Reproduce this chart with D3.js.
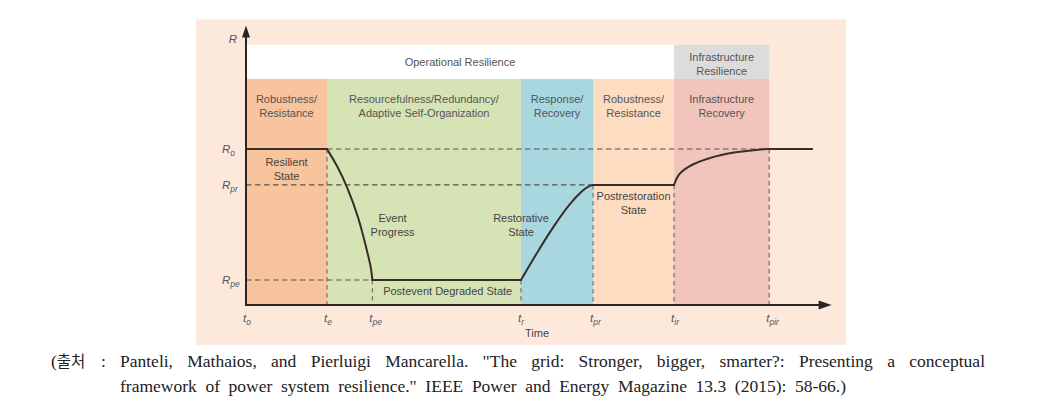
<!DOCTYPE html>
<html>
<head>
<meta charset="utf-8">
<script src="https://cdn.jsdelivr.net/npm/d3@7"></script>
<style>
  html, body { margin: 0; padding: 0; background: #ffffff; }
  svg { display: block; }
</style>
</head>
<body>
<svg id="chart" width="1042" height="407"></svg>
<script>
// ---------------- DATA ----------------
const timeSubs   = ["o", "e", "pe", "r", "pr", "ir", "pir"];
const timeValues = [0, 10, 15.6, 33.95, 42.85, 52.85, 64.6];
const timeAxisEnd = 72.3;
const curveEnd = 69.9;

const levelSubs   = ["o", "pr", "pe"];
const levelValues = [1, 0.77, 0.16];

const phaseLabels = [
  ["Robustness/", "Resistance"],
  ["Resourcefulness/Redundancy/", "Adaptive Self-Organization"],
  ["Response/", "Recovery"],
  ["Robustness/", "Resistance"],
  ["Infrastructure", "Recovery"]
];
const phaseStart = [0, 1, 3, 4, 5];   // index into timeValues
const phaseEnd   = [1, 3, 4, 5, 6];
const phaseColors = ["#f8c49d", "#d6e3b5", "#a9d7df", "#fddcc1", "#f1c5bb"];

const resilienceLabels = ["Operational Resilience", ["Infrastructure", "Resilience"]];

// resilience curve pieces [time, R]
const resilientState = [[0, 1], [10, 1]];
const eventProgress = [[10, 1], [11.3, 0.89], [12.4, 0.77], [13.9, 0.565], [14.9, 0.355], [15.45, 0.24], [15.6, 0.16]];
const degradedState = [[15.6, 0.16], [33.95, 0.16]];
const restorativeState = [[33.95, 0.16], [35.9, 0.333], [37.9, 0.5], [40.0, 0.654], [41.6, 0.737], [42.3, 0.762], [42.85, 0.77]];
const postrestorationState = [[42.85, 0.77], [52.85, 0.77]];
const infraRecovery = [[52.85, 0.77], [53.3, 0.835], [54.4, 0.885], [56.9, 0.942], [60.6, 0.983], [63.5, 0.998], [64.6, 1.0]];
const finalState = [[64.6, 1], [curveEnd, 1]];

const stateLabels = [
  {lines: ["Resilient", "State"], t: 5, r: 0.89},
  {lines: ["Event", "Progress"], t: 18.1, r: 0.535},
  {lines: ["Restorative", "State"], t: 33.95, r: 0.535},
  {lines: ["Postrestoration", "State"], t: 47.85, r: 0.675},
  {lines: ["Postevent Degraded State"], t: 24.9, r: 0.065}
];

const captionLabel = ["(출처", ":"];
const captionLine1 = "Panteli, Mathaios, and Pierluigi Mancarella. \"The grid: Stronger, bigger, smarter?: Presenting a conceptual";
const captionLine2 = "framework of power system resilience.\" IEEE Power and Energy Magazine 13.3 (2015): 58-66.)";

// ---------------- DRAW ----------------
const svg = d3.select("#chart");
const x = d3.scaleLinear().domain([0, timeAxisEnd]).range([246, 831.6]);
const y = d3.scaleLinear().domain([0, 1]).range([305, 149]);

const R_BAND_TOP = 1.449, R_TOP = 1.667, R_PANEL_TOP = 1.83, R_PANEL_BOTTOM = -0.256;

// outer panel
svg.append("rect")
  .attr("x", 196).attr("y", y(R_PANEL_TOP))
  .attr("width", 846 - 196).attr("height", y(R_PANEL_BOTTOM) - y(R_PANEL_TOP))
  .attr("fill", "#fde9dc");

// operational resilience (white) and infrastructure resilience (grey) bands
svg.append("rect")
  .attr("x", x(timeValues[0])).attr("y", y(R_TOP))
  .attr("width", x(timeValues[5]) - x(timeValues[0])).attr("height", y(R_BAND_TOP) - y(R_TOP))
  .attr("fill", "#ffffff");
svg.append("rect")
  .attr("x", x(timeValues[5])).attr("y", y(R_TOP))
  .attr("width", x(timeValues[6]) - x(timeValues[5])).attr("height", y(R_BAND_TOP) - y(R_TOP))
  .attr("fill", "#dcdcdc");

// phase bands
phaseLabels.forEach((lab, i) => {
  const x0 = x(timeValues[phaseStart[i]]), x1 = x(timeValues[phaseEnd[i]]);
  svg.append("rect")
    .attr("x", x0).attr("y", y(R_BAND_TOP))
    .attr("width", x1 - x0).attr("height", y(0) - y(R_BAND_TOP))
    .attr("fill", phaseColors[i]);
});

const sans = "'Liberation Sans', Arial, sans-serif";
function multiText(cx, baseline, lines, size, color, lh) {
  const t = svg.append("text")
    .attr("text-anchor", "middle")
    .attr("font-family", sans).attr("font-size", size).attr("fill", color);
  lines.forEach((l, k) => {
    t.append("tspan").attr("x", cx).attr("y", baseline + k * lh).text(l);
  });
  return t;
}

// band texts
multiText((x(timeValues[0]) + x(timeValues[5])) / 2, 66, [resilienceLabels[0]], 11, "#555", 14);
multiText((x(timeValues[5]) + x(timeValues[6])) / 2, 61, resilienceLabels[1], 11, "#555", 14);
phaseLabels.forEach((lab, i) => {
  const cx = (x(timeValues[phaseStart[i]]) + x(timeValues[phaseEnd[i]])) / 2;
  multiText(cx, 103, lab, 11, "#555", 13.5);
});

// dashed reference lines
const dashes = [
  {h: true, a: timeValues[1], b: timeValues[6], v: levelValues[0]},
  {h: true, a: timeValues[0], b: timeValues[4], v: levelValues[1]},
  {h: true, a: timeValues[0], b: timeValues[2], v: levelValues[2]},
  {h: false, a: levelValues[0], b: 0, v: timeValues[1]},
  {h: false, a: levelValues[2], b: 0, v: timeValues[2]},
  {h: false, a: levelValues[2], b: 0, v: timeValues[3]},
  {h: false, a: levelValues[1], b: 0, v: timeValues[4]},
  {h: false, a: levelValues[1], b: 0, v: timeValues[5]},
  {h: false, a: levelValues[0], b: 0, v: timeValues[6]}
];
dashes.forEach(d => {
  const l = svg.append("line")
    .attr("stroke", d.h ? "#5e5048" : "#857a72")
    .attr("stroke-width", d.h ? 1.1 : 1.3)
    .attr("stroke-dasharray", d.h ? "5.5,3.5" : "4.5,3.5");
  if (d.h) l.attr("x1", x(d.a)).attr("x2", x(d.b)).attr("y1", y(d.v)).attr("y2", y(d.v));
  else l.attr("x1", x(d.v)).attr("x2", x(d.v)).attr("y1", y(d.a)).attr("y2", y(d.b));
});

// resilience curve
const straight = d3.line().x(d => x(d[0])).y(d => y(d[1]));
const smooth = d3.line().x(d => x(d[0])).y(d => y(d[1])).curve(d3.curveBasis);
const pieces = [
  [resilientState, straight], [eventProgress, smooth], [degradedState, straight],
  [restorativeState, smooth], [postrestorationState, straight],
  [infraRecovery, smooth], [finalState, straight]
];
pieces.forEach(([pts, gen]) => {
  svg.append("path").attr("d", gen(pts))
    .attr("fill", "none").attr("stroke", "#3a2c2a").attr("stroke-width", 2)
    .attr("stroke-linejoin", "round").attr("stroke-linecap", "round");
});

// state labels
stateLabels.forEach(s => {
  multiText(x(s.t), y(s.r), s.lines, 11, "#444", 14);
});

// axes with arrows
const axisColor = "#2b2424";
svg.append("line")
  .attr("x1", x(0)).attr("x2", x(0)).attr("y1", y(0) + 1).attr("y2", y(R_PANEL_TOP) + 14)
  .attr("stroke", axisColor).attr("stroke-width", 2);
svg.append("path")
  .attr("d", `M${x(0)},${y(R_PANEL_TOP) + 6} L${x(0) - 4},${y(R_PANEL_TOP) + 18} L${x(0) + 4},${y(R_PANEL_TOP) + 18} Z`)
  .attr("fill", axisColor);
svg.append("line")
  .attr("x1", x(0) - 1).attr("x2", x(timeAxisEnd) - 10).attr("y1", y(0)).attr("y2", y(0))
  .attr("stroke", axisColor).attr("stroke-width", 2);
svg.append("path")
  .attr("d", `M${x(timeAxisEnd)},${y(0)} L${x(timeAxisEnd) - 13},${y(0) - 4.5} L${x(timeAxisEnd) - 13},${y(0) + 4.5} Z`)
  .attr("fill", axisColor);

// axis labels
function subLabel(px, py, main, sub, anchor) {
  const t = svg.append("text")
    .attr("x", px).attr("y", py).attr("text-anchor", anchor)
    .attr("font-family", sans).attr("font-size", 11.5).attr("font-style", "italic").attr("fill", "#555");
  t.append("tspan").text(main);
  if (sub) t.append("tspan").attr("dy", 3).attr("font-size", 8.5).text(sub);
  return t;
}
subLabel(237, 43, "R", null, "end");
levelSubs.forEach((s, i) => {
  subLabel(222, y(levelValues[i]) + 4, "R", s, "start");
});
timeSubs.forEach((s, i) => {
  subLabel(x(timeValues[i]) - 3, 322, "t", s, "start");
});
svg.append("text")
  .attr("x", 537).attr("y", 337).attr("text-anchor", "middle")
  .attr("font-family", sans).attr("font-size", 11).attr("fill", "#444")
  .text("Time");

// caption
const serif = "'Liberation Serif', 'Times New Roman', serif";
const capSize = 17.5;
svg.append("text").attr("x", 51).attr("y", 367)
  .attr("font-family", serif).attr("font-size", capSize).attr("fill", "#222")
  .append("tspan").text("(")
  .append("tspan").attr("font-family", "'Noto Sans CJK KR', sans-serif").attr("font-size", 15.5)
  .text(captionLabel[0].slice(1));
svg.append("text").attr("x", 101).attr("y", 367)
  .attr("font-family", serif).attr("font-size", capSize).attr("fill", "#222")
  .text(captionLabel[1]);

function justifyLine(str, x0, x1, baseline) {
  const words = str.split(" ");
  const g = svg.append("g");
  const nodes = words.map(w => g.append("text")
    .attr("y", baseline).attr("font-family", serif).attr("font-size", capSize).attr("fill", "#222").text(w));
  const widths = nodes.map(n => n.node().getComputedTextLength());
  const total = d3.sum(widths);
  const gap = (x1 - x0 - total) / (words.length - 1);
  let cx = x0;
  nodes.forEach((n, k) => { n.attr("x", cx); cx += widths[k] + gap; });
}
justifyLine(captionLine1, 120, 985, 367);
justifyLine(captionLine2, 120, 846, 392);
</script>
</body>
</html>
